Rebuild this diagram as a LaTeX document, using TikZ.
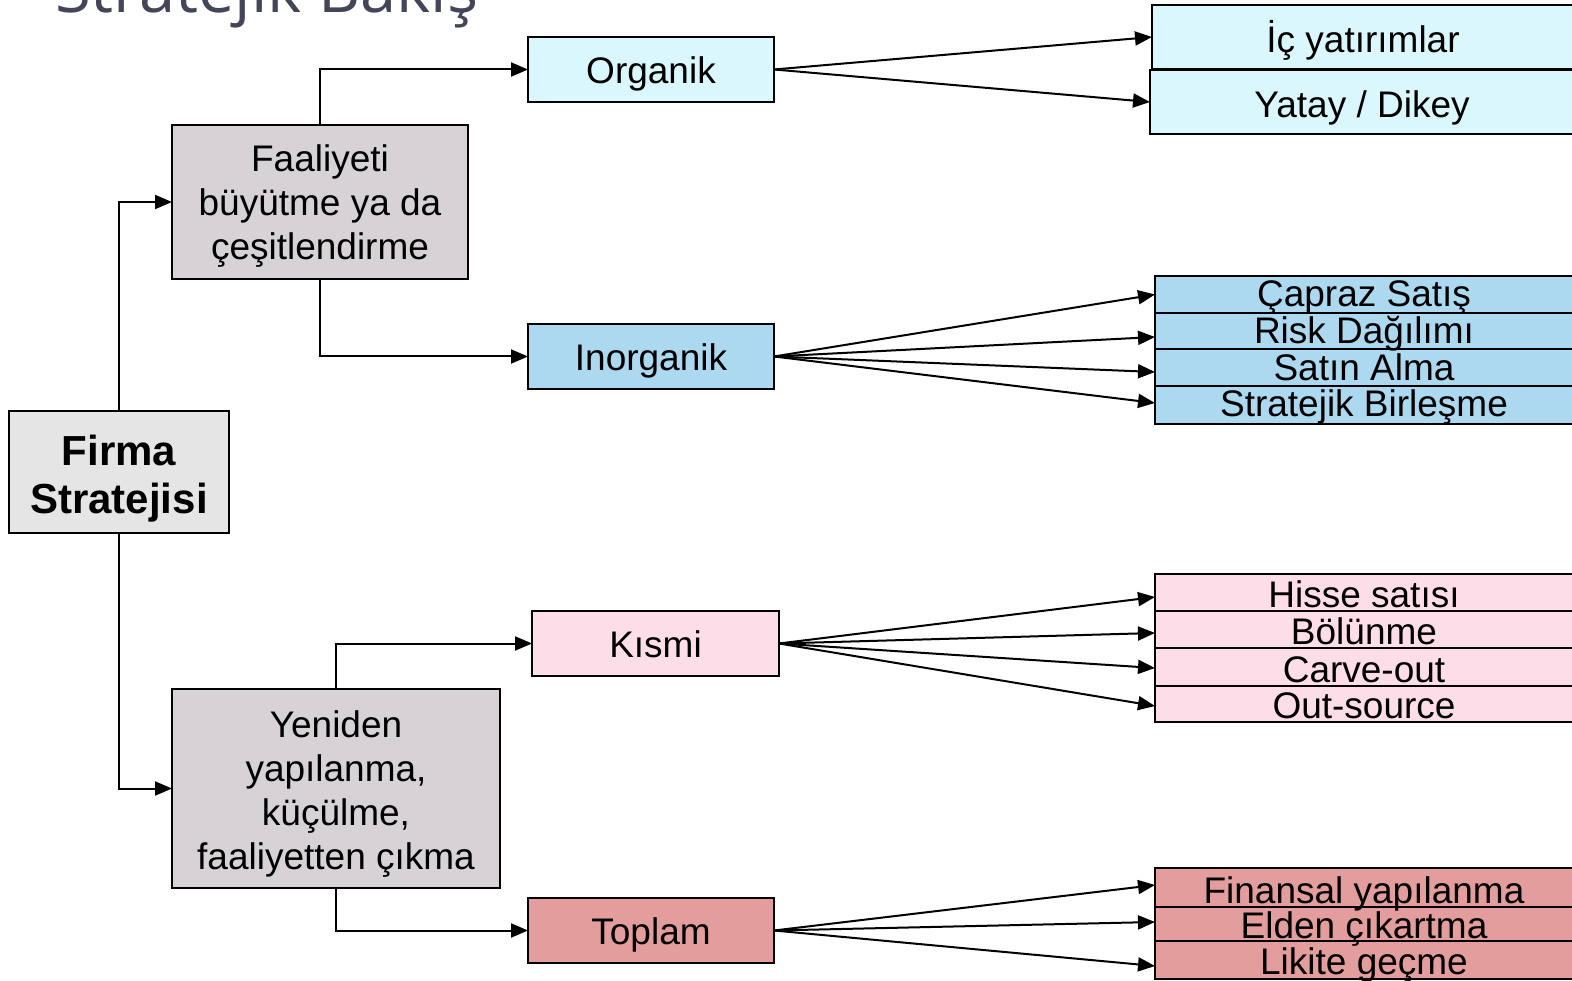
\documentclass[tikz,border=0pt]{standalone}
\usepackage{fontspec}
\setmainfont{Liberation Sans}
\newfontfamily\titlefont{Open Sans}
\usetikzlibrary{arrows.meta}
\definecolor{ctitle}{RGB}{67,69,88}
\definecolor{cfirma}{RGB}{229,229,229}
\definecolor{cgray}{RGB}{214,210,214}
\definecolor{ccyan}{RGB}{217,247,252}
\definecolor{cblue}{RGB}{172,216,240}
\definecolor{cpink}{RGB}{253,221,232}
\definecolor{cred}{RGB}{227,157,157}
\tikzset{
  frame/.style={draw=black, line width=2pt, inner sep=0pt, outer sep=0pt},
  box/.style={frame, align=center, text height=28pt, text depth=0pt, font=\fontsize{37}{44}\selectfont},
  multitext/.style={inner sep=0pt, align=center, font=\fontsize{37}{44}\selectfont},
  stackbox/.style={frame, minimum width=418, fill=#1},
  stacktext/.style={anchor=base, inner sep=0pt, font=\fontsize{37}{40}\selectfont},
  arr/.style={line width=2pt, -{Triangle[length=17pt,width=14pt]}}
}
\begin{document}
\begin{tikzpicture}[x=1pt,y=-1pt]
\useasboundingbox (0,0) rectangle (1572,981);
\clip (0,0) rectangle (1572,981);
\fill[white] (0,0) rectangle (1572,981);

\node[anchor=base west, inner sep=0pt, text=ctitle, font=\titlefont\fontsize{65}{65}\selectfont] (title) at (55,13) {Stratejik Bakış};

% left column
\node[frame, fill=cfirma, minimum width=220, minimum height=122] (firma) at (119,472) {};
\node[multitext, font=\bfseries\fontsize{42}{48}\selectfont] (firmat) at ([yshift=-7pt]firma.center) {Firma\\Stratejisi};
\node[frame, fill=cgray, minimum width=296, minimum height=154] (faal) at (320,202) {};
\node[multitext] (faalt) at ([yshift=-4pt]faal.center) {Faaliyeti\\büyütme ya da\\çeşitlendirme};
\node[frame, fill=cgray, minimum width=328, minimum height=199] (yen) at (336,788.5) {};
\node[multitext] (yent) at ([yshift=-6pt]yen.center) {Yeniden\\yapılanma,\\küçülme,\\faaliyetten çıkma};

% middle column
\node[box, fill=ccyan, minimum width=246, minimum height=65] (org) at (651,69.5) {Organik};
\node[box, fill=cblue, minimum width=246, minimum height=65] (inorg) at (651,356.5) {Inorganik};
\node[box, fill=cpink, minimum width=247, minimum height=65] (kis) at (655.5,643.5) {Kısmi};
\node[box, fill=cred, minimum width=246, minimum height=65] (top) at (651,930.5) {Toplam};

% right column
\node[box, text height=32pt, fill=ccyan, minimum width=422, minimum height=64] (ic) at (1363,37) {İç yatırımlar};
\node[box, text height=31pt, fill=ccyan, minimum width=424, minimum height=64] (yat) at (1362,102) {Yatay / Dikey};

\node[stackbox=cblue, minimum height=37] (b1) at (1364,294.5) {};
\node[stackbox=cblue, minimum height=36] (b2) at (1364,331) {};
\node[stackbox=cblue, minimum height=37] (b3) at (1364,367.5) {};
\node[stackbox=cblue, minimum height=38] (b4) at (1364,405) {};
\node[stacktext] (b1t) at ([yshift=6pt]b1.south) {Çapraz Satış};
\node[stacktext] (b2t) at ([yshift=5pt]b2.south) {Risk Dağılımı};
\node[stacktext] (b3t) at ([yshift=5pt]b3.south) {Satın Alma};
\node[stacktext] (b4t) at ([yshift=7pt]b4.south) {Stratejik Birleşme};

\node[stackbox=cpink, minimum height=37] (p1) at (1364,592.5) {};
\node[stackbox=cpink, minimum height=37] (p2) at (1364,629.5) {};
\node[stackbox=cpink, minimum height=38] (p3) at (1364,667) {};
\node[stackbox=cpink, minimum height=36] (p4) at (1364,704) {};
\node[stacktext] (p1t) at ([yshift=4pt]p1.south) {Hisse satısı};
\node[stacktext] (p2t) at ([yshift=4pt]p2.south) {Bölünme};
\node[stacktext] (p3t) at ([yshift=4pt]p3.south) {Carve-out};
\node[stacktext] (p4t) at ([yshift=4pt]p4.south) {Out-source};

\node[stackbox=cred, minimum height=39] (r1) at (1364,887.5) {};
\node[stackbox=cred, minimum height=34] (r2) at (1364,924) {};
\node[stackbox=cred, minimum height=38] (r3) at (1364,960) {};
\node[stacktext] (r1t) at ([yshift=4pt]r1.south) {Finansal yapılanma};
\node[stacktext] (r2t) at ([yshift=3pt]r2.south) {Elden çıkartma};
\node[stacktext] (r3t) at ([yshift=5pt]r3.south) {Likite geçme};

% elbow connectors
\draw[arr] (firma.north) |- (faal.west);
\draw[arr] (firma.south) |- (yen.west);
\draw[arr] (faal.north) |- (org.west);
\draw[arr] (faal.south) |- (inorg.west);
\draw[arr] (yen.north) |- (kis.west);
\draw[arr] (yen.south) |- (top.west);

% fan connectors
\draw[arr] (org.east) -- (ic.west);
\draw[arr] (org.east) -- (yat.west);

\draw[arr] (inorg.east) -- (b1.west);
\draw[arr] (inorg.east) -- ([yshift=-6pt]b2.west);
\draw[arr] (inorg.east) -- ([yshift=-4.5pt]b3.west);
\draw[arr] (inorg.east) -- ([yshift=2pt]b4.west);

\draw[arr] (kis.east) -- ([yshift=-4.5pt]p1.west);
\draw[arr] (kis.east) -- ([yshift=-3.5pt]p2.west);
\draw[arr] (kis.east) -- ([yshift=-1pt]p3.west);
\draw[arr] (kis.east) -- ([yshift=-2pt]p4.west);

\draw[arr] (top.east) -- ([yshift=2.5pt]r1.west);
\draw[arr] (top.east) -- ([yshift=2pt]r2.west);
\draw[arr] (top.east) -- ([yshift=-6pt]r3.west);
\end{tikzpicture}
\end{document}
